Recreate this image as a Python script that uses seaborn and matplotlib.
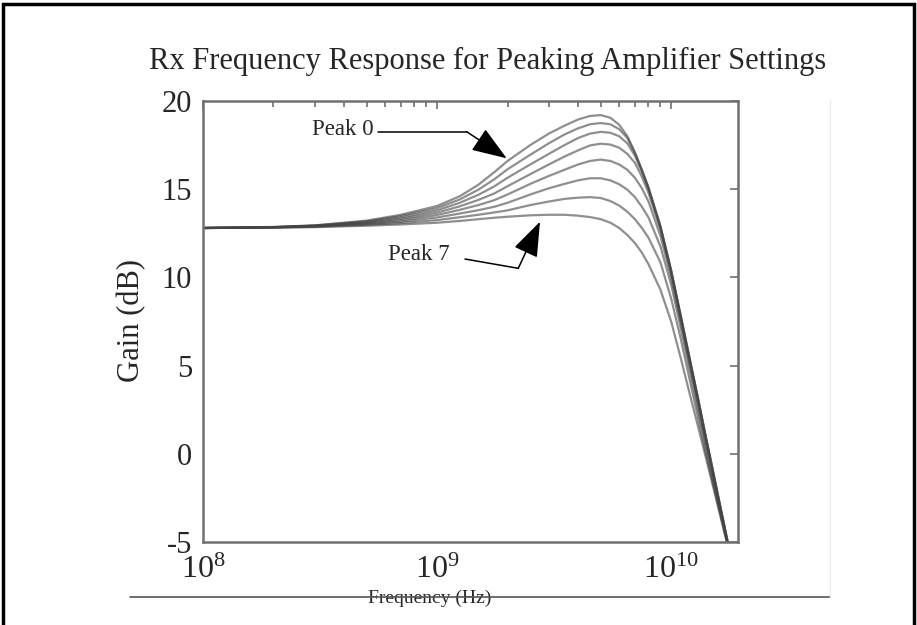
import numpy as np
import pandas as pd
import matplotlib
matplotlib.use("Agg")
import matplotlib.pyplot as plt
import seaborn as sns
from matplotlib.lines import Line2D

# ---------------- data ----------------
freq_hz = [1e8, 2e8, 3e8, 5e8, 7e8, 1e9, 1.25e9, 1.5e9, 1.75e9, 2e9, 2.5e9, 3e9,
           3.5e9, 4e9, 4.5e9, 5e9, 5.5e9, 6e9, 6.5e9, 7e9, 7.5e9, 8e9, 9e9, 1e10,
           1.1e10, 1.2e10, 1.3e10, 1.4e10, 1.5e10, 1.6e10, 1.75e10]

peak0 = [12.8, 12.86, 12.95, 13.22, 13.55, 14.05, 14.6, 15.25, 15.95, 16.6, 17.5, 18.15,
         18.6, 18.95, 19.15, 19.2, 19.05, 18.65, 18.0, 17.1, 16.1, 15.1, 12.9, 10.4,
         7.8, 5.4, 3.2, 1.1, -0.8, -2.6, -5.1]
peak1 = [12.8, 12.85, 12.94, 13.18, 13.48, 13.93, 14.42, 14.97, 15.55, 16.13, 16.95, 17.6,
         18.1, 18.45, 18.68, 18.75, 18.68, 18.4, 17.9, 17.05, 16.07, 15.08, 12.88, 10.38,
         7.78, 5.38, 3.18, 1.08, -0.82, -2.62, -5.1]
peak2 = [12.8, 12.85, 12.93, 13.14, 13.4, 13.8, 14.23, 14.68, 15.15, 15.65, 16.4, 17.0,
         17.5, 17.9, 18.15, 18.25, 18.2, 18.0, 17.6, 16.9, 15.98, 15.02, 12.85, 10.35,
         7.75, 5.35, 3.15, 1.05, -0.85, -2.65, -5.12]
peak3 = [12.8, 12.84, 12.92, 13.1, 13.32, 13.67, 14.03, 14.39, 14.75, 15.17, 15.85, 16.4,
         16.85, 17.2, 17.48, 17.58, 17.53, 17.35, 17.0, 16.5, 15.7, 14.8, 12.7, 10.25,
         7.65, 5.25, 3.05, 0.95, -0.95, -2.72, -5.15]
peak4 = [12.8, 12.84, 12.9, 13.06, 13.24, 13.54, 13.83, 14.1, 14.37, 14.7, 15.3, 15.75,
         16.1, 16.4, 16.6, 16.68, 16.6, 16.4, 16.1, 15.65, 15.05, 14.3, 12.35, 10.0,
         7.45, 5.05, 2.85, 0.75, -1.1, -2.85, -5.2]
peak5 = [12.8, 12.83, 12.89, 13.02, 13.16, 13.4, 13.62, 13.81, 14.0, 14.23, 14.7, 15.05,
         15.3, 15.5, 15.62, 15.62, 15.5, 15.28, 14.97, 14.55, 14.0, 13.4, 11.75, 9.6,
         7.1, 4.75, 2.55, 0.5, -1.3, -3.0, -5.22]
peak6 = [12.8, 12.83, 12.87, 12.98, 13.08, 13.25, 13.41, 13.55, 13.68, 13.8, 14.1, 14.3,
         14.45, 14.52, 14.55, 14.5, 14.33, 14.07, 13.72, 13.3, 12.8, 12.25, 10.85, 8.8,
         6.5, 4.2, 2.1, 0.15, -1.55, -3.1, -5.25]
peak7 = [12.8, 12.82, 12.85, 12.93, 13.0, 13.1, 13.2, 13.3, 13.38, 13.44, 13.52, 13.55,
         13.55, 13.5, 13.42, 13.3, 13.1, 12.8, 12.4, 11.95, 11.4, 10.75, 9.3, 7.5,
         5.4, 3.4, 1.6, -0.1, -1.7, -3.2, -5.3]

settings = ["Peak 0", "Peak 1", "Peak 2", "Peak 3", "Peak 4", "Peak 5", "Peak 6", "Peak 7"]
series = [peak0, peak1, peak2, peak3, peak4, peak5, peak6, peak7]

title_text = "Rx Frequency Response for Peaking Amplifier Settings"
y_ticks = [-5, 0, 5, 10, 15, 20]

# ---------------- build long table ----------------
rows = []
for name, vals in zip(settings, series):
    for f, g in zip(freq_hz, vals):
        rows.append({"freq": f, "gain": g, "setting": name})
df = pd.DataFrame(rows)

# ---------------- style ----------------
sns.set_style("white")
plt.rcParams["font.family"] = ["Liberation Serif", "DejaVu Serif"]
plt.rcParams["mathtext.fontset"] = "custom"
plt.rcParams["mathtext.rm"] = "Liberation Serif"
plt.rcParams["mathtext.it"] = "Liberation Serif:italic"
plt.rcParams["mathtext.bf"] = "Liberation Serif:bold"

fig = plt.figure(figsize=(9.17, 6.25), dpi=100)
fig.patch.set_facecolor("white")
ax = fig.add_axes([203 / 917, 1 - 542 / 625, 535 / 917, 441 / 625])

sns.lineplot(data=df, x="freq", y="gain", hue="setting", hue_order=settings,
             palette=["#444444"] * len(settings), estimator=None, sort=False,
             legend=False, linewidth=1.6, alpha=0.6, ax=ax)

ax.set_xscale("log")
ax.set_xlim(1e8, 1.93e10)
ax.set_ylim(-5, 20)
ax.set_yticks(y_ticks)
ax.set_yticklabels([str(v) for v in y_ticks])

spine_col = "#707070"
for s in ax.spines.values():
    s.set_color(spine_col)
    s.set_linewidth(1.8)
    s.set_visible(True)

ax.tick_params(which="both", direction="in", top=True, right=True,
               color=spine_col, width=1.2)
ax.tick_params(which="major", length=6)
ax.tick_params(which="minor", length=4)
ax.tick_params(axis="y", labelsize=22, pad=8)
ax.tick_params(axis="x", labelsize=23, pad=10)

ax.set_xlabel("Frequency (Hz)", fontsize=14, va="center")
ax.xaxis.set_label_coords(0.4243, -0.127)
ax.set_ylabel("Gain (dB)", fontsize=22)
ax.yaxis.set_label_coords(-0.1065, 0.503)

# title
fig.text(488 / 917, 1 - 61 / 625, title_text, ha="center", va="center", fontsize=22)

# annotations
ax.text(0.2037, 0.9365, "Peak 0", transform=ax.transAxes, fontsize=16.5,
        ha="left", va="center")
ax.add_line(Line2D([0.3271, 0.4929], [0.9304, 0.9304], transform=ax.transAxes,
                   color="black", lw=1.1))
ax.annotate("", xy=(0.5677, 0.8700), xycoords="axes fraction",
            xytext=(0.4929, 0.9304), textcoords="axes fraction",
            arrowprops=dict(arrowstyle="-|>,head_length=1.1,head_width=0.4",
                            mutation_scale=20, color="black", lw=1.1,
                            shrinkA=0, shrinkB=0))

ax.text(0.3458, 0.6508, "Peak 7", transform=ax.transAxes, fontsize=16.5,
        ha="left", va="center")
ax.add_line(Line2D([0.4897, 0.5893], [0.6417, 0.6206], transform=ax.transAxes,
                   color="black", lw=1.1))
ax.annotate("", xy=(0.6299, 0.7263), xycoords="axes fraction",
            xytext=(0.5893, 0.6206), textcoords="axes fraction",
            arrowprops=dict(arrowstyle="-|>,head_length=1.1,head_width=0.4",
                            mutation_scale=20, color="black", lw=1.1,
                            shrinkA=0, shrinkB=0))

# decorative page elements
fig.add_artist(Line2D([130 / 917, 830 / 917], [1 - 597 / 625, 1 - 597 / 625],
                      transform=fig.transFigure, color="#555555", lw=1.2))
fig.add_artist(Line2D([830 / 917, 830 / 917], [1 - 100 / 625, 1 - 597 / 625],
                      transform=fig.transFigure, color="#ececec", lw=1.0))
# page frame: left, top and right edges (bottom is cut off)
fig.add_artist(Line2D([3 / 917, 3 / 917, 914 / 917, 914 / 917],
                      [0.0, 1 - 4 / 625, 1 - 4 / 625, 0.0],
                      transform=fig.transFigure, color="black", lw=2.5,
                      solid_joinstyle="miter"))

fig.savefig("out.png", dpi=100)
